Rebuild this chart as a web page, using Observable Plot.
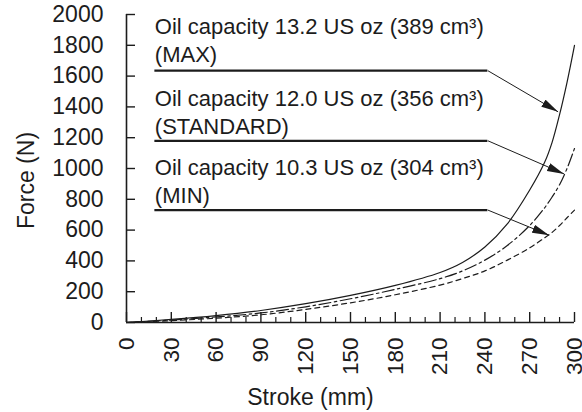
<!DOCTYPE html>
<html>
<head>
<meta charset="utf-8">
<script src="https://cdn.jsdelivr.net/npm/d3@7"></script>
<script src="https://cdn.jsdelivr.net/npm/@observablehq/plot@0.6"></script>
<style>
  html, body { margin: 0; padding: 0; background: #fff; }
</style>
</head>
<body>
<div id="chart"></div>
<script>
// ---- data ----
const strokeMm = [0, 30, 60, 90, 120, 150, 180, 210, 225, 240, 255, 270, 280, 285, 290, 295, 300];
const forceMax = [0, 20, 45, 78, 122, 176, 241, 325, 390, 490, 640, 860, 1040, 1170, 1350, 1560, 1800];
const forceStandard = [0, 16, 36, 62, 102, 154, 215, 285, 335, 405, 500, 630, 745, 815, 895, 1000, 1130];
const forceMin = [0, 12, 28, 50, 85, 128, 180, 243, 285, 335, 405, 485, 550, 585, 630, 680, 730];

const seriesNames = ["MAX", "STANDARD", "MIN"];
const labelTexts = [
  "Oil capacity 13.2 US oz (389 cm³)\n(MAX)",
  "Oil capacity 12.0 US oz (356 cm³)\n(STANDARD)",
  "Oil capacity 10.3 US oz (304 cm³)\n(MIN)"
];
// annotation anchors (data units)
const labelX = 19;
const labelY = [2000, 1535, 1085];
const leaderX1 = 19;
const leaderX2 = 242;
const leaderY = [1635, 1180, 730];
const tipX = [289, 293, 283];
const tipY = [1368, 965, 567];

const xMajorTicks = [0, 30, 60, 90, 120, 150, 180, 210, 240, 270, 300];
const xMinorTicks = [10, 20, 40, 50, 70, 80, 100, 110, 130, 140, 160, 170, 190, 200, 220, 230, 250, 260, 280, 290];
const yTicks = [0, 200, 400, 600, 800, 1000, 1200, 1400, 1600, 1800, 2000];

// ---- build tables ----
const rows = (vals, name) => strokeMm.map((s, i) => ({stroke: s, force: vals[i], series: name}));
const dataMax = rows(forceMax, seriesNames[0]);
const dataStd = rows(forceStandard, seriesNames[1]);
const dataMin = rows(forceMin, seriesNames[2]);

const labels = labelTexts.map((t, i) => ({text: t, x: labelX, y: labelY[i]}));
const leaders = leaderY.map((y, i) => ({x1: leaderX1, x2: leaderX2, y, tx: tipX[i], ty: tipY[i]}));

const ink = "#1c1c1c";
const W = 582, H = 412;
const mL = 126, mR = 8, mT = 14, mB = 90;
const frameW = W - mL - mR, frameH = H - mT - mB;

function filledArrow(color, context) {
  const ns = "http://www.w3.org/2000/svg";
  const doc = (context && context.document) || document;
  const m = doc.createElementNS(ns, "marker");
  m.setAttribute("viewBox", "-17 -4.5 17 9");
  m.setAttribute("markerWidth", 17);
  m.setAttribute("markerHeight", 9);
  m.setAttribute("markerUnits", "userSpaceOnUse");
  m.setAttribute("refX", 0);
  m.setAttribute("refY", 0);
  m.setAttribute("orient", "auto");
  const p = doc.createElementNS(ns, "path");
  p.setAttribute("d", "M-17,-4.2L0,0L-17,4.2Z");
  p.setAttribute("fill", color);
  p.setAttribute("stroke", "none");
  m.appendChild(p);
  return m;
}

const chart = Plot.plot({
  width: W,
  height: H,
  marginLeft: mL,
  marginRight: mR,
  marginTop: mT,
  marginBottom: mB,
  style: {fontFamily: "'Liberation Sans', Arial, Helvetica, sans-serif", fontSize: "23px", color: ink, background: "#fff", overflow: "visible"},
  x: {domain: [0, 300]},
  y: {domain: [0, 2000]},
  marks: [
    // axis lines
    Plot.ruleX([0], {stroke: ink, strokeWidth: 1.6}),
    Plot.ruleY([0], {stroke: ink, strokeWidth: 1.6}),
    // inward ticks
    Plot.tickX(xMajorTicks, {x: d => d, stroke: ink, strokeWidth: 1.4, insetTop: frameH - 10}),
    Plot.tickX(xMinorTicks, {x: d => d, stroke: ink, strokeWidth: 1.2, insetTop: frameH - 5}),
    Plot.tickY(yTicks, {y: d => d, stroke: ink, strokeWidth: 1.4, insetRight: frameW - 9}),
    // tick labels
    Plot.axisX({ticks: xMajorTicks, tickSize: 0, tickPadding: 15, tickRotate: -90, label: null, fill: ink, fontSize: 22.5, tickFormat: d => String(d)}),
    Plot.axisY({ticks: yTicks, tickSize: 0, tickPadding: 23, label: null, fill: ink, tickFormat: d => String(d)}),
    // axis titles
    Plot.text(["Force (N)"], {frameAnchor: "left", rotate: -90, dx: 33 - mL, dy: 12, lineAnchor: "bottom", textAnchor: "middle", fill: ink, fontSize: 23}),
    Plot.text(["Stroke (mm)"], {frameAnchor: "bottom", dx: -40, dy: 82, lineAnchor: "bottom", textAnchor: "middle", fill: ink, fontSize: 23}),
    // curves
    Plot.line(dataMax, {x: "stroke", y: "force", curve: "catmull-rom", stroke: ink, strokeWidth: 1.2}),
    Plot.line(dataStd, {x: "stroke", y: "force", curve: "catmull-rom", stroke: ink, strokeWidth: 1.2, strokeDasharray: "12,3.5,2.5,3.5"}),
    Plot.line(dataMin, {x: "stroke", y: "force", curve: "catmull-rom", stroke: ink, strokeWidth: 1.2, strokeDasharray: "5,4"}),
    // annotations
    Plot.text(labels, {x: "x", y: "y", text: "text", textAnchor: "start", lineAnchor: "top", lineHeight: 1.27, fontSize: 22, fill: ink}),
    Plot.ruleY(leaders, {y: "y", x1: "x1", x2: "x2", stroke: ink, strokeWidth: 2.2}),
    Plot.link(leaders, {x1: "x2", y1: "y", x2: "tx", y2: "ty", stroke: ink, strokeWidth: 1, markerEnd: filledArrow})
  ]
});
document.getElementById("chart").appendChild(chart);
</script>
</body>
</html>
